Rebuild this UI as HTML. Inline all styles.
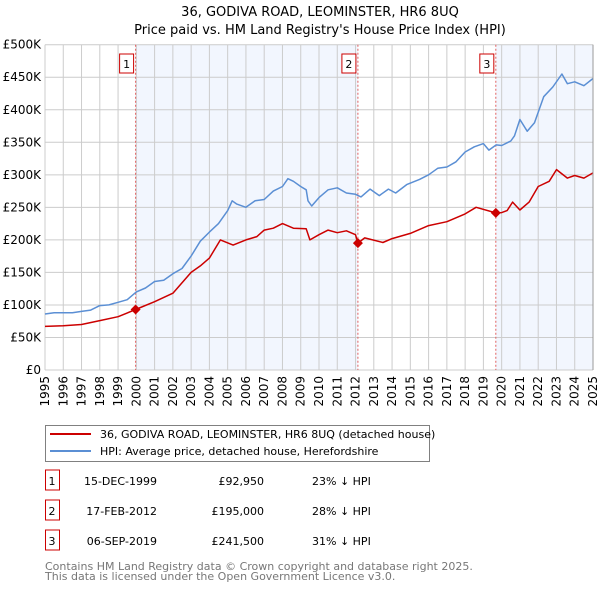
<!DOCTYPE html>
<html><head><meta charset="utf-8"><style>
body{margin:0;background:#fff;font-family:"DejaVu Sans","Liberation Sans",sans-serif;}
svg text{font-family:"DejaVu Sans","Liberation Sans",sans-serif;}
</style></head><body>
<svg id="c" width="600" height="590" xmlns="http://www.w3.org/2000/svg">
<text x="320" y="16" font-size="13" text-anchor="middle">36, GODIVA ROAD, LEOMINSTER, HR6 8UQ</text>
<text x="320" y="34" font-size="13" text-anchor="middle">Price paid vs. HM Land Registry's House Price Index (HPI)</text>
<g id="plot"></g>
<g>
<rect x="45.5" y="425.5" width="384" height="36" fill="#fff" stroke="#808080"/>
<line x1="50" y1="434" x2="91" y2="434" stroke="#cc0000" stroke-width="2"/>
<text x="100" y="438" font-size="11">36, GODIVA ROAD, LEOMINSTER, HR6 8UQ (detached house)</text>
<line x1="50" y1="451" x2="91" y2="451" stroke="#5b8fd4" stroke-width="2"/>
<text x="100" y="455" font-size="11">HPI: Average price, detached house, Herefordshire</text>
</g>
<g id="tbl" font-size="11"></g>
<text x="45" y="570" font-size="11" fill="#777">Contains HM Land Registry data © Crown copyright and database right 2025.</text>
<text x="45" y="580" font-size="11" fill="#777">This data is licensed under the Open Government Licence v3.0.</text>
</svg>
<script>
const hpiYears=[1995,1995.5,1996,1996.5,1997,1997.5,1998,1998.5,1999,1999.5,2000,2000.5,2001,2001.5,2002,2002.5,2003,2003.5,2004,2004.5,2005,2005.25,2005.5,2006,2006.5,2007,2007.5,2008,2008.3,2008.6,2009,2009.3,2009.4,2009.6,2010,2010.5,2011,2011.5,2012,2012.3,2012.8,2013.3,2013.8,2014.2,2014.8,2015.5,2016,2016.5,2017,2017.5,2018,2018.5,2019,2019.3,2019.7,2020,2020.5,2020.7,2021,2021.4,2021.8,2022.3,2022.8,2023.3,2023.6,2024,2024.5,2025];
const hpiValues=[86,88,88,88,90,92,99,100,104,108,120,126,136,138,148,156,175,198,212,225,245,260,255,250,260,262,275,282,294,290,282,277,260,252,265,277,280,272,270,266,278,268,278,272,285,293,300,310,312,320,335,343,348,338,346,345,352,360,385,367,380,420,435,455,440,443,437,448];
const priceYears=[1995,1996,1997,1998,1999,1999.96,2001,2002,2003,2003.5,2004,2004.6,2005.3,2006,2006.6,2007,2007.5,2008,2008.6,2009.3,2009.5,2010,2010.5,2011,2011.5,2012,2012.13,2012.5,2013.5,2014,2015,2016,2017,2018,2018.6,2019.68,2020,2020.3,2020.6,2021,2021.5,2022,2022.6,2023,2023.6,2024,2024.5,2025];
const priceValues=[67,68,70,76,82,93,105,118,150,160,172,200,192,200,205,215,218,225,218,217,200,208,215,211,214,208,195,203,196,202,210,222,228,240,250,241.5,242,245,258,246,258,282,290,308,295,299,295,303];
const saleYears=[1999.96,2012.13,2019.68];
const saleValues=[92.95,195,241.5];
const saleLabels=["1","2","3"];
const saleDates=["15-DEC-1999","17-FEB-2012","06-SEP-2019"];
const salePrices=["£92,950","£195,000","£241,500"];
const saleDiffs=["23% ↓ HPI","28% ↓ HPI","31% ↓ HPI"];
const yTicks=[0,50,100,150,200,250,300,350,400,450,500];
const yTickLabels=["£0","£50K","£100K","£150K","£200K","£250K","£300K","£350K","£400K","£450K","£500K"];
const xTicks=[1995,1996,1997,1998,1999,2000,2001,2002,2003,2004,2005,2006,2007,2008,2009,2010,2011,2012,2013,2014,2015,2016,2017,2018,2019,2020,2021,2022,2023,2024,2025];

const NS="http://www.w3.org/2000/svg";
const L=45,R=593,T=44.7,B=370;
const xs=y=>L+(y-1995)/30*(R-L);
const ys=v=>B-v/500*(B-T);
const plot=document.getElementById('plot');
function mk(t,a,p){const e=document.createElementNS(NS,t);for(const k in a)e.setAttribute(k,a[k]);(p||plot).appendChild(e);return e;}
// shading
let e=mk('rect',{x:xs(saleYears[0]),y:T,width:xs(saleYears[1])-xs(saleYears[0]),height:B-T,fill:'#eef3fd',opacity:0.75});


e=mk('rect',{x:xs(saleYears[2]),y:T,width:R-xs(saleYears[2]),height:B-T,fill:'#eef3fd',opacity:0.75});


// grid
yTicks.forEach((v,i)=>{
 const g=mk('line',{x1:L,x2:R,y1:ys(v),y2:ys(v),stroke:'#cccccc','stroke-width':1});
 
 
 const t=mk('text',{x:L-4,y:ys(v)+4,'font-size':12,'text-anchor':'end'});t.textContent=yTickLabels[i];
 
 
});
xTicks.forEach(y=>{
 const g=mk('line',{x1:xs(y),x2:xs(y),y1:T,y2:B,stroke:'#cccccc','stroke-width':1});
 
 
 const t=mk('text',{x:0,y:0,'font-size':12,'text-anchor':'end',transform:`translate(${xs(y)+4},${B+6}) rotate(-90)`});t.textContent=y;
 
 
});
// sale vlines
saleYears.forEach((y,i)=>{
 const l=mk('line',{x1:xs(y),x2:xs(y),y1:T,y2:B,stroke:'#e06060','stroke-width':1,'stroke-dasharray':'2,2'});
 
 
 const bx=mk('rect',{x:xs(y)-16,y:54,width:14,height:19,fill:'#fff',stroke:'#cc0000'});
 
 
 const t=mk('text',{x:xs(y)-9,y:68,'font-size':11,'text-anchor':'middle'});t.textContent=saleLabels[i];
 
 
});
function line(xa,va,col,name){
 const p=mk('path',{d:xa.map((x,i)=>(i?'L':'M')+xs(x).toFixed(1)+','+ys(va[i]).toFixed(1)).join(''),fill:'none',stroke:col,'stroke-width':1.5,'stroke-linejoin':'round'});
 
 
}
line(hpiYears,hpiValues,'#5b8fd4','hpi-line');
line(priceYears,priceValues,'#cc0000','price-paid-line');
saleYears.forEach((y,i)=>{
 const x=xs(y),v=ys(saleValues[i]);
 const d=mk('path',{d:`M${x},${v-5}L${x+5},${v}L${x},${v+5}L${x-5},${v}Z`,fill:'#cc0000'});
 
 
});
mk('line',{x1:R,x2:R,y1:T,y2:B,stroke:'#999','stroke-width':1});
// table
const tbl=document.getElementById('tbl');
saleLabels.forEach((s,i)=>{
 const y=483+i*30;
 let r=mk('rect',{x:45.5,y:y-13,width:14,height:20,fill:'#fff',stroke:'#cc0000'},tbl);
 
 
 const cells=[[52,s,'middle'],[157,saleDates[i],'end'],[264,salePrices[i],'end'],[312,saleDiffs[i],'start']];
 cells.forEach(c=>{const t=mk('text',{x:c[0],y:y+2,'text-anchor':c[2]},tbl);t.textContent=c[1];
  
  });
});
</script>
</body></html>
